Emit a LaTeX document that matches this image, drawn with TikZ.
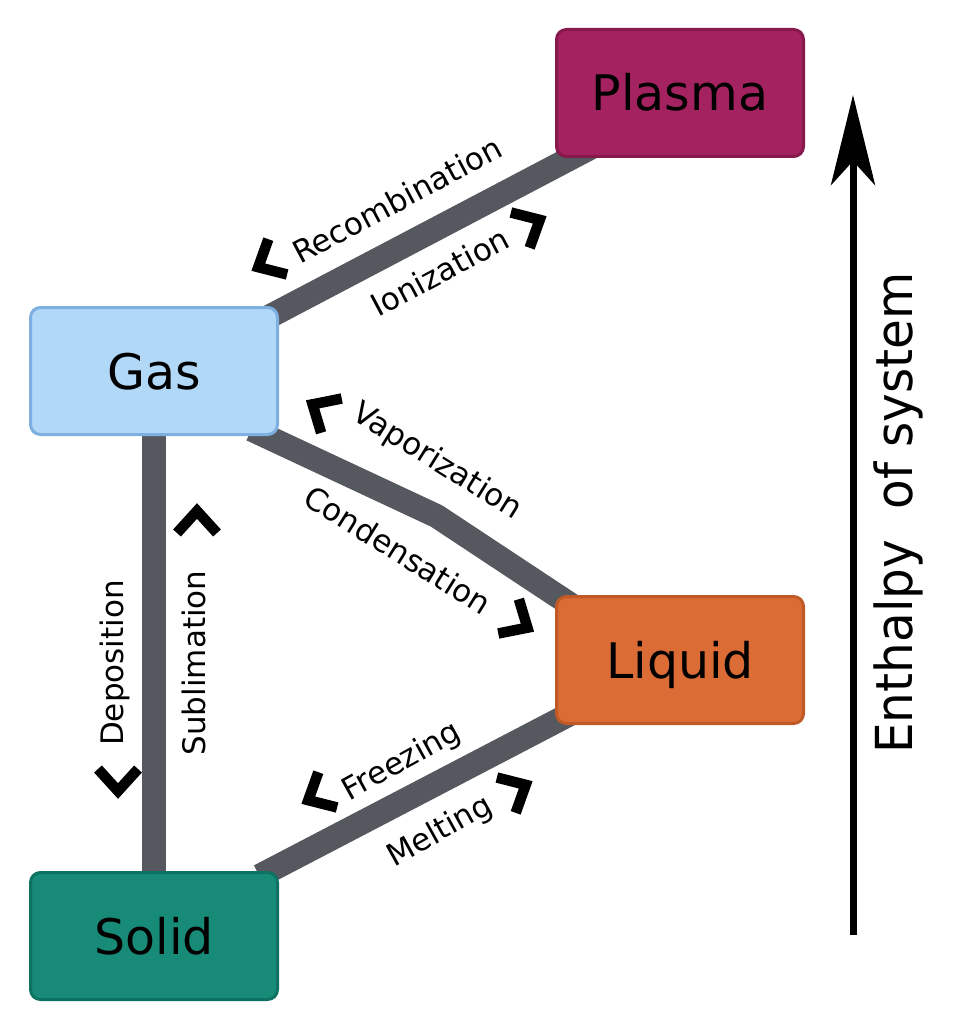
\documentclass[tikz,border=0pt]{standalone}
\usepackage{fontspec}
\setmainfont{DejaVu Sans}
\newfontfamily\condfont[FakeStretch=0.95]{DejaVu Sans}
\usetikzlibrary{arrows.meta,backgrounds,calc}
\definecolor{plasmafill}{HTML}{A3225F}
\definecolor{plasmaline}{HTML}{861A4C}
\definecolor{gasfill}{HTML}{B2D8F8}
\definecolor{gasline}{HTML}{7DB0E0}
\definecolor{liquidfill}{HTML}{DB6C36}
\definecolor{liquidline}{HTML}{BF5A28}
\definecolor{solidfill}{HTML}{188B78}
\definecolor{solidline}{HTML}{0E7262}
\definecolor{conngray}{HTML}{55585E}
\newcommand\chevmark[3]{\draw[chev, shift={(#1,#2)}, rotate=#3] (-11,-20) -- (11,0) -- (-11,20);}
\begin{document}
\begin{tikzpicture}[x=1pt,y=-1pt,
  box/.style={draw, line width=3pt, rounded corners=10pt, minimum width=247pt, minimum height=127pt,
    inner sep=0pt, font=\fontsize{49}{50}\selectfont, text height=36pt, text depth=0pt},
  conn/.style={draw=conngray, line width=24pt, line join=round},
  chev/.style={draw=black, line width=10.5pt, miter limit=10},
  lbl/.style={inner sep=0pt, font=\fontsize{31}{33}\selectfont}]
\useasboundingbox (0,0) rectangle (959,1024);
% phases
\node[box, fill=plasmafill, draw=plasmaline] (plasma) at (680,93) {Plasma};
\node[box, fill=gasfill, draw=gasline] (gas) at (154,371) {Gas};
\node[box, fill=liquidfill, draw=liquidline] (liquid) at (680,660) {Liquid};
\node[box, fill=solidfill, draw=solidline] (solid) at (154,936) {Solid};
% connectors
\begin{scope}[on background layer]
\fill[white] (0,0) rectangle (959,1024);
\draw[conn] ($(gas.north east)+(-20,16)$) -- ($(plasma.south west)+(36,-10.5)$);
\draw[conn] ($(gas.south east)+(-27.5,-6.5)$) -- ($(gas.south east)+(157.5,80)$) -- ($(liquid.north west)+(33.5,21.5)$);
\draw[conn] (gas.south) -- (solid.north);
\draw[conn] ($(solid.north east)+(-19.5,5)$) -- ($(liquid.south west)+(33.5,-20.6)$);
\end{scope}
% labels
\node[lbl, rotate=28] (trec) at (397,200) {Recombination};
\node[lbl, rotate=28] (tion) at (440,272) {Ionization};
\node[lbl, rotate=-32] (tvap) at (437,462) {Vaporization};
\node[lbl, rotate=-32] (tcon) at (398,550) {Condensation};
\node[lbl, rotate=90] (tdep) at (115,663) {Deposition};
\node[lbl, rotate=90] (tsub) at (194,663) {Sublimation};
\node[lbl, rotate=29] (tfre) at (402,762) {Freezing};
\node[lbl, rotate=29] (tmel) at (440,832) {Melting};
% chevrons
\chevmark{268}{262}{208}
\chevmark{530}{225}{28}
\chevmark{322}{410}{149}
\chevmark{518}{622}{-31}
\chevmark{118}{780}{-90}
\chevmark{197}{522}{90}
\chevmark{318}{795}{208}
\chevmark{516}{790}{28}
% enthalpy axis
\coordinate (abot) at (853,935);
\coordinate (atop) at (853,95);
\draw[line width=7pt, -{Stealth[length=90pt,width=44pt,inset=24pt]}] (abot) -- (atop);
\node[inner sep=0pt, rotate=90, anchor=base, font=\condfont\fontsize{51}{53}\selectfont] (enth) at (912,513) {Enthalpy\hspace{0.6em}of system};
\end{tikzpicture}
\end{document}
